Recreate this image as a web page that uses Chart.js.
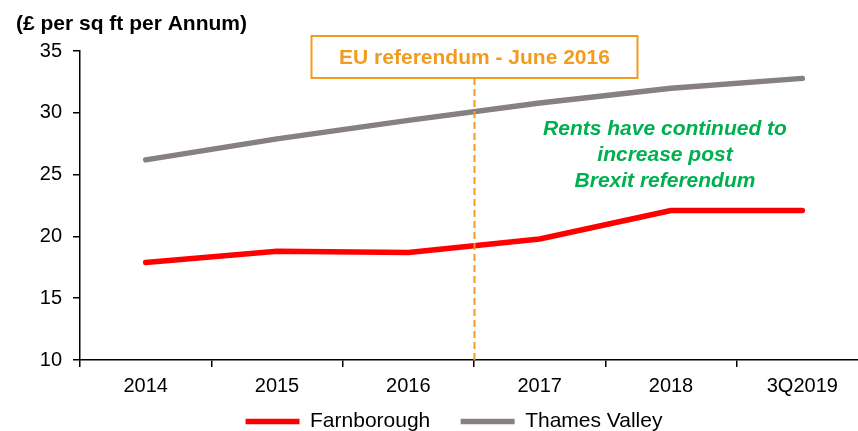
<!DOCTYPE html>
<html>
<head>
<meta charset="utf-8">
<script src="https://cdn.jsdelivr.net/npm/chart.js@4.4.0/dist/chart.umd.min.js"></script>
<style>
  html, body { margin: 0; padding: 0; background: #fff; overflow: hidden; }
  #wrap { width: 900px; height: 431px; }
</style>
</head>
<body>
<div id="wrap"><canvas id="rentChart" width="900" height="431"></canvas></div>
<script>
// categories and series
var years = ['2014', '2015', '2016', '2017', '2018', '3Q2019'];
var farnborough = [17.9, 18.8, 18.7, 19.8, 22.1, 22.1];
var thamesValley = [26.2, 27.9, 29.4, 30.8, 32.0, 32.8];
var yTicks = [10, 15, 20, 25, 30, 35];

var FONT = "'Liberation Sans', Arial, sans-serif";
var ORANGE = '#F29B1E';
var GREEN = '#00B050';

// referendum marker + annotation text
var annotations = {
    id: 'annotations',
    afterDatasetsDraw: function(chart) {
        var ctx = chart.ctx;
        var x = chart.scales.x;
        var y = chart.scales.y;
        var px = Math.round(x.getPixelForValue(2.5)) + 0.5;
        var boxW = 326, boxH = 42, boxTop = 36;

        ctx.save();
        // dashed vertical line
        ctx.strokeStyle = ORANGE;
        ctx.lineWidth = 2;
        ctx.setLineDash([7, 4]);
        ctx.beginPath();
        ctx.moveTo(px, boxTop + boxH);
        ctx.lineTo(px, y.bottom);
        ctx.stroke();
        ctx.setLineDash([]);

        // box
        ctx.fillStyle = '#fff';
        ctx.fillRect(px - boxW / 2, boxTop, boxW, boxH);
        ctx.lineWidth = 2;
        ctx.strokeRect(px - boxW / 2, boxTop, boxW, boxH);
        ctx.fillStyle = ORANGE;
        ctx.font = 'bold 21px ' + FONT;
        ctx.textAlign = 'center';
        ctx.textBaseline = 'middle';
        ctx.fillText('EU referendum - June 2016', px, boxTop + boxH / 2 + 1);

        // green note
        ctx.fillStyle = GREEN;
        ctx.font = 'italic bold 21px ' + FONT;
        var lines = ['Rents have continued to', 'increase post', 'Brexit referendum'];
        for (var i = 0; i < lines.length; i++) {
            ctx.fillText(lines[i], 665, 129 + i * 26);
        }
        ctx.restore();
    }
};

var ctx = document.getElementById('rentChart').getContext('2d');
var rentChart = new Chart(ctx, {
    type: 'line',
    data: {
        labels: years,
        datasets: [{
            label: 'Farnborough',
            data: farnborough,
            borderColor: '#FF0000',
            backgroundColor: '#FF0000',
            borderWidth: 5.5,
            borderCapStyle: 'round',
            borderJoinStyle: 'round',
            pointRadius: 0,
            tension: 0
        }, {
            label: 'Thames Valley',
            data: thamesValley,
            borderColor: '#868080',
            backgroundColor: '#868080',
            borderWidth: 5.5,
            borderCapStyle: 'round',
            borderJoinStyle: 'round',
            pointRadius: 0,
            tension: 0
        }]
    },
    options: {
        responsive: false,
        animation: false,
        layout: {
            padding: { left: 16, right: 8, top: 0, bottom: 0 }
        },
        scales: {
            x: {
                offset: true,
                afterFit: function(scale) { scale.height = 37; },
                grid: {
                    offset: true,
                    drawOnChartArea: false,
                    color: '#000',
                    lineWidth: 1.5,
                    tickLength: 7
                },
                border: { color: '#000', width: 1.5 },
                ticks: {
                    color: '#000',
                    font: { family: FONT, size: 20 },
                    padding: 7,
                    maxRotation: 0
                }
            },
            y: {
                min: 10,
                max: 35,
                afterBuildTicks: function(scale) {
                    scale.ticks = yTicks.map(function(v) { return { value: v }; });
                },
                afterFit: function(scale) { scale.width = 64; },
                grid: {
                    drawOnChartArea: false,
                    color: '#000',
                    lineWidth: 1.5,
                    tickLength: 7
                },
                border: { color: '#000', width: 1.5 },
                ticks: {
                    color: '#000',
                    font: { family: FONT, size: 20 },
                    padding: 11
                }
            },
            // empty right-hand axis, only to keep the plot edge where it sits in the reference
            yRight: {
                position: 'right',
                afterFit: function(scale) { scale.width = 24; },
                grid: { display: false },
                border: { display: false },
                ticks: { display: false }
            }
        },
        plugins: {
            title: {
                display: true,
                text: '(£ per sq ft per Annum)',
                align: 'start',
                color: '#000',
                font: { family: FONT, size: 21, weight: 'bold' },
                padding: { top: 12, bottom: 14 }
            },
            legend: {
                position: 'bottom',
                maxHeight: 34,
                labels: {
                    color: '#000',
                    font: { family: FONT, size: 21 },
                    usePointStyle: true,
                    pointStyle: 'line',
                    pointStyleWidth: 54,
                    padding: 14,
                    generateLabels: function(chart) {
                        var items = Chart.defaults.plugins.legend.labels.generateLabels(chart);
                        // wider gap after the first entry, as in the reference
                        items[0].text = items[0].text + '\u2002 ';
                        return items;
                    }
                }
            },
            tooltip: { enabled: false }
        }
    },
    plugins: [annotations]
});
</script>
</body>
</html>
